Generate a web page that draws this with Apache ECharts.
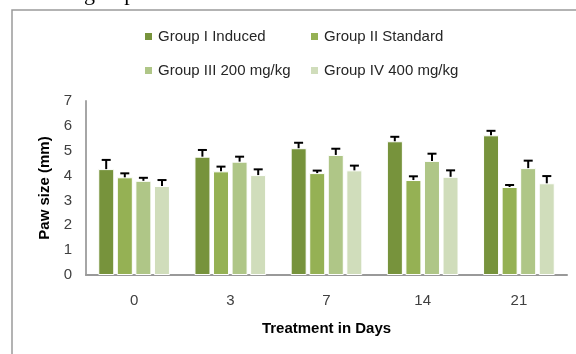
<!DOCTYPE html>
<html>
<head>
<meta charset="utf-8">
<script src="https://cdn.jsdelivr.net/npm/echarts@6/dist/echarts.min.js"></script>
<style>
  html, body { margin: 0; padding: 0; background: #fff; }
  #chart { width: 576px; height: 354px; }
</style>
</head>
<body>
<div id="chart"></div>
<script>
const days = ['0', '3', '7', '14', '21'];
const groupNames = ['Group I Induced', 'Group II Standard', 'Group III 200 mg/kg', 'Group IV 400 mg/kg'];
const groupColors = ['#77933C', '#95B154', '#AFC687', '#D0DDBB'];

const induced = [4.26, 4.76, 5.10, 5.38, 5.62];
const standard = [3.93, 4.17, 4.10, 3.82, 3.54];
const dose200 = [3.79, 4.56, 4.83, 4.59, 4.30];
const dose400 = [3.58, 4.02, 4.21, 3.95, 3.69];

const inducedErr = [0.37, 0.27, 0.22, 0.18, 0.18];
const standardErr = [0.16, 0.19, 0.10, 0.15, 0.08];
const dose200Err = [0.12, 0.20, 0.25, 0.29, 0.30];
const dose400Err = [0.24, 0.23, 0.19, 0.26, 0.29];

const values = [induced, standard, dose200, dose400];
const errors = [inducedErr, standardErr, dose200Err, dose400Err];

const chart = echarts.init(document.getElementById('chart'), null, { renderer: 'canvas' });

const font = 'Liberation Sans';
const pitch = 18.6;

const errData = [];
values.forEach((arr, s) => {
    arr.forEach((v, i) => errData.push([i, v, errors[s][i], s]));
});

const series = values.map((arr, s) => ({
    name: groupNames[s],
    type: 'bar',
    data: arr,
    barWidth: 16,
    barGap: '16%',
    itemStyle: { color: groupColors[s], borderColor: '#fff', borderWidth: 1 },
    z: 2
}));

series.push({
    type: 'custom',
    data: errData,
    encode: { x: 0, y: 1 },
    z: 5,
    silent: true,
    renderItem: function (params, api) {
        const i = api.value(0);
        const v = api.value(1);
        const e = api.value(2);
        const s = api.value(3);
        const base = api.coord([i, v]);
        const top = api.coord([i, v + e]);
        const x = base[0] + (s - 1.5) * pitch;
        const style = { stroke: '#000', lineWidth: 2 };
        return {
            type: 'group',
            children: [
                { type: 'line', shape: { x1: x, y1: base[1], x2: x, y2: top[1] }, style: style },
                { type: 'line', shape: { x1: x - 4.5, y1: top[1], x2: x + 4.5, y2: top[1] }, style: style }
            ]
        };
    }
});

// one legend per item so the two columns line up like the original
const legendPos = [[138, 24], [304, 24], [138, 58], [304, 58]];
const legends = groupNames.map((n, k) => ({
    data: [n],
    left: legendPos[k][0],
    top: legendPos[k][1],
    itemWidth: 9,
    itemHeight: 9,
    itemGap: 6,
    icon: 'rect',
    textStyle: { fontFamily: font, fontSize: 15, color: '#262626' }
}));

const option = {
    animation: false,
    graphic: [
        {
            type: 'rect',
            shape: { x: 12, y: 10, width: 700, height: 500 },
            style: { fill: 'none', stroke: '#9a9a9a', lineWidth: 1.5 },
            silent: true
        },
        {
            type: 'text',
            left: 84,
            top: -17,
            style: { text: 'group', font: '22px "Liberation Serif"', fill: '#000' },
            silent: true
        }
    ],
    legend: legends,
    grid: { left: 86, right: 9, top: 101, bottom: 79 },
    xAxis: {
        type: 'category',
        data: days,
        name: 'Treatment in Days',
        nameLocation: 'middle',
        nameGap: 46,
        nameTextStyle: { fontFamily: font, fontSize: 15, fontWeight: 'bold', color: '#000' },
        axisLine: { lineStyle: { color: '#999', width: 2 } },
        axisTick: { show: false },
        axisLabel: { fontFamily: font, fontSize: 15, color: '#404040', margin: 18 }
    },
    yAxis: {
        type: 'value',
        min: 0,
        max: 7,
        interval: 1,
        name: 'Paw size (mm)',
        nameLocation: 'middle',
        nameGap: 33,
        nameTextStyle: { fontFamily: font, fontSize: 15, fontWeight: 'bold', color: '#000' },
        axisLine: { show: true, lineStyle: { color: '#a6a6a6', width: 2 } },
        axisTick: { show: false },
        splitLine: { show: false },
        axisLabel: { fontFamily: font, fontSize: 15, color: '#404040', margin: 14 }
    },
    series: series
};

chart.setOption(option);
window.addEventListener('resize', chart.resize);
</script>
</body>
</html>
